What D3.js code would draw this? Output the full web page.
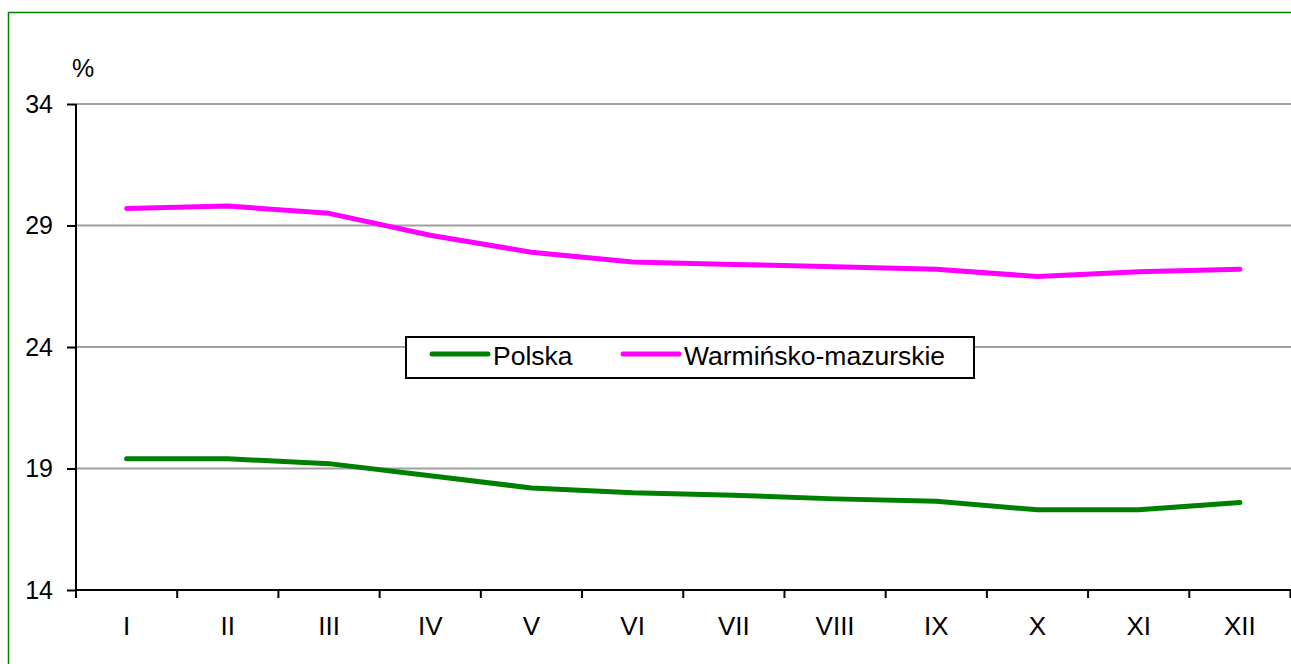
<!DOCTYPE html>
<html>
<head>
<meta charset="utf-8">
<script src="https://cdn.jsdelivr.net/npm/d3@7"></script>
<style>
  body { margin: 0; background: #fff; }
  text { font-family: "Liberation Sans", Arial, sans-serif; }
</style>
</head>
<body>
<script>
const months = ["I", "II", "III", "IV", "V", "VI", "VII", "VIII", "IX", "X", "XI", "XII"];
const polska = [19.4, 19.4, 19.2, 18.7, 18.2, 18.0, 17.9, 17.75, 17.65, 17.3, 17.3, 17.6];
const warm = [29.7, 29.8, 29.5, 28.6, 27.9, 27.5, 27.4, 27.3, 27.2, 26.9, 27.1, 27.2];
const yTicks = [14, 19, 24, 29, 34];

const width = 1291, height = 664;

const svg = d3.select("body").append("svg")
  .attr("width", width)
  .attr("height", height);

// outer frame
svg.append("rect")
  .attr("x", 8.5).attr("y", 12.5)
  .attr("width", width).attr("height", height)
  .attr("fill", "none")
  .attr("stroke", "#008000")
  .attr("stroke-width", 1.5);

const x = d3.scaleBand().domain(months).range([76, 1290.5]);
const y = d3.scaleLinear().domain([14, 34]).range([590, 104]);

// grid
svg.append("g")
  .selectAll("line")
  .data(yTicks.slice(1))
  .join("line")
  .attr("x1", 76).attr("x2", width)
  .attr("y1", d => y(d)).attr("y2", d => y(d))
  .attr("stroke", "#a0a0a0")
  .attr("stroke-width", 2);

// y axis
const yAxis = svg.append("g")
  .attr("transform", "translate(76,0)")
  .call(d3.axisLeft(y).tickValues(yTicks).tickSize(9).tickPadding(14));
yAxis.select(".domain").attr("stroke", "#000").attr("stroke-width", 2).attr("d", "M0,104V590");
yAxis.selectAll(".tick line").attr("stroke", "#000").attr("stroke-width", 2);
yAxis.selectAll(".tick text").attr("font-size", 25).attr("fill", "#000")
  .attr("font-family", "Liberation Sans, Arial, sans-serif");

// x axis
const xAxis = svg.append("g")
  .attr("transform", "translate(0,590)")
  .call(d3.axisBottom(x).tickSize(0).tickPadding(27));
xAxis.select(".domain").attr("stroke", "#000").attr("stroke-width", 2).attr("d", "M76,0H1291");
xAxis.selectAll(".tick text").attr("font-size", 26).attr("fill", "#000")
  .attr("font-family", "Liberation Sans, Arial, sans-serif");
xAxis.append("g")
  .selectAll("line")
  .data(months.map(m => x(m)).concat([x.range()[1]]))
  .join("line")
  .attr("x1", d => d).attr("x2", d => d)
  .attr("y1", 0).attr("y2", 8)
  .attr("stroke", "#000")
  .attr("stroke-width", 2);

svg.append("text")
  .attr("x", 72).attr("y", 77)
  .attr("font-size", 25)
  .text("%");

const line = d3.line()
  .x((d, i) => x(months[i]) + x.bandwidth() / 2)
  .y(d => y(d));

const series = [
  {name: "Polska", values: polska, color: "#008000"},
  {name: "Warmińsko-mazurskie", values: warm, color: "#ff00ff"}
];

svg.append("g")
  .selectAll("path")
  .data(series)
  .join("path")
  .attr("d", d => line(d.values))
  .attr("fill", "none")
  .attr("stroke", d => d.color)
  .attr("stroke-width", 5)
  .attr("stroke-linecap", "round")
  .attr("stroke-linejoin", "round");

// legend
const legend = svg.append("g");
legend.append("rect")
  .attr("x", 406).attr("y", 337)
  .attr("width", 568).attr("height", 41)
  .attr("fill", "#fff")
  .attr("stroke", "#000")
  .attr("stroke-width", 2);
const items = legend.selectAll("g.item")
  .data(series)
  .join("g")
  .attr("class", "item")
  .attr("transform", (d, i) => `translate(${[432, 623][i]},354)`);
items.append("line")
  .attr("x1", 0).attr("x2", 56)
  .attr("stroke", d => d.color)
  .attr("stroke-width", 5)
  .attr("stroke-linecap", "round");
items.append("text")
  .attr("x", 61).attr("y", 11)
  .attr("font-size", 26.5)
  .text(d => d.name);
</script>
</body>
</html>
